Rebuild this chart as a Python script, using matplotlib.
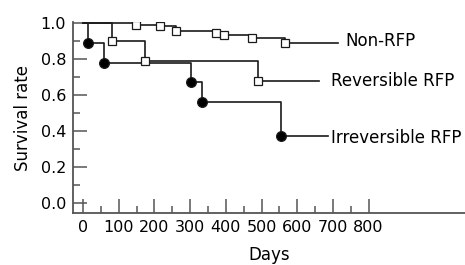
import matplotlib.pyplot as plt
import numpy as np

# Kaplan-Meier steps (days, survival rate)
non_rfp_days = [0, 148, 216, 260, 373, 396, 473, 566]
non_rfp_surv = [1.0, 0.987, 0.982, 0.955, 0.942, 0.932, 0.917, 0.89]
non_rfp_end = 713

rev_days = [0, 80, 174, 489]
rev_surv = [1.0, 0.9, 0.79, 0.675]
rev_end = 662

irrev_days = [0, 15, 60, 302, 332, 555]
irrev_surv = [1.0, 0.89, 0.78, 0.67, 0.56, 0.37]
irrev_end = 686

labels = ["Non-RFP", "Reversible RFP", "Irreversible RFP"]
xticks = [0, 100, 200, 300, 400, 500, 600, 700, 800]
yticks = [0.0, 0.2, 0.4, 0.6, 0.8, 1.0]

plt.rcParams['font.family'] = 'DejaVu Sans'

fig = plt.figure(figsize=(4.65, 2.65), dpi=100)
ax = fig.add_axes([0.157, 0.196, 0.843, 0.721])

line_col = '#1a1a1a'
axis_col = '#555555'


def km(days, surv, end, marker, face, ms):
    x = list(days) + [end]
    y = list(surv) + [surv[-1]]
    ax.step(x, y, where='post', color=line_col, lw=1.2, zorder=2)
    ax.plot(days[1:], surv[1:], ls='none', marker=marker, ms=ms,
            mfc=face, mec=line_col, mew=0.9, zorder=3)


km(non_rfp_days, non_rfp_surv, non_rfp_end, 's', 'white', 5.5)
km(rev_days, rev_surv, rev_end, 's', 'white', 5.5)
km(irrev_days, irrev_surv, irrev_end, 'o', 'black', 7)

ax.text(734, 0.899, labels[0], fontsize=12, va='center', ha='left')
ax.text(695, 0.679, labels[1], fontsize=12, va='center', ha='left')
ax.text(695, 0.362, labels[2], fontsize=12, va='center', ha='left')

ax.set_xlim(-28, 1070)
ax.set_ylim(-0.055, 1.005)

ax.set_xticks(xticks)
ax.set_xticks(np.arange(50, 800, 100), minor=True)
ax.set_yticks(yticks)
ax.set_yticks(np.arange(0.1, 1.0, 0.2), minor=True)
ax.set_yticklabels([f"{v:.1f}" for v in yticks])

ax.tick_params(which='major', direction='in', length=10, width=1.1,
               color=axis_col, labelsize=11.5, pad=5)
ax.tick_params(which='minor', direction='in', length=5, width=1.1,
               color=axis_col)

for s in ['top', 'right']:
    ax.spines[s].set_visible(False)
for s in ['left', 'bottom']:
    ax.spines[s].set_color(axis_col)
    ax.spines[s].set_linewidth(1.3)

ax.set_xlabel("Days", fontsize=12, labelpad=8)
ax.set_ylabel("Survival rate", fontsize=12, labelpad=6)

fig.savefig("out.png", dpi=100)
